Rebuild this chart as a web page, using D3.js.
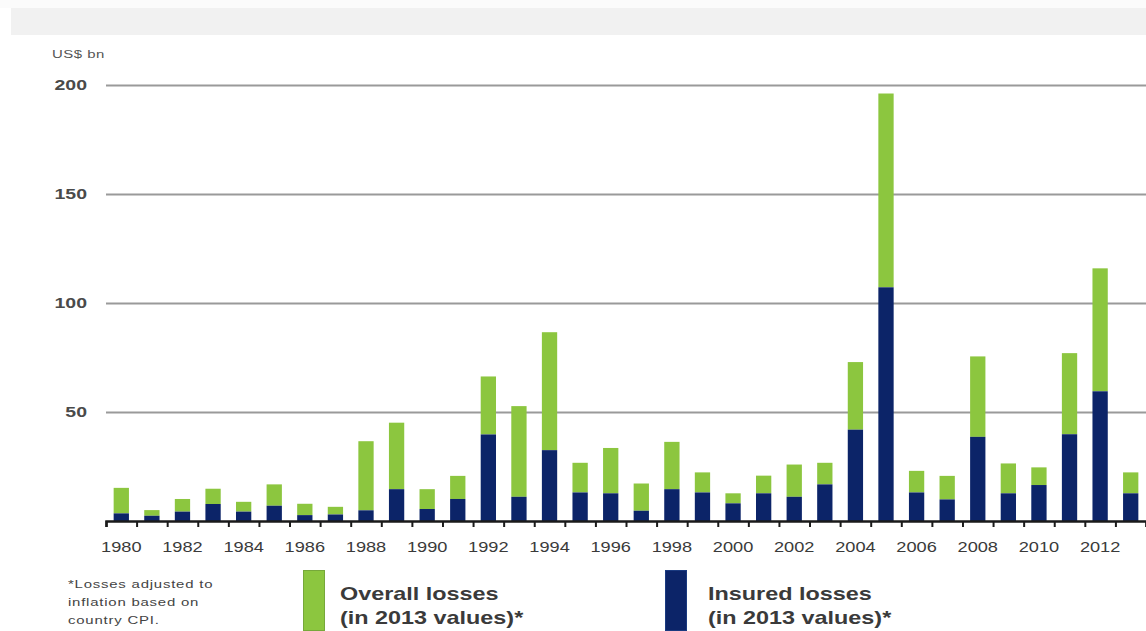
<!DOCTYPE html>
<html>
<head>
<meta charset="utf-8">
<script src="https://cdn.jsdelivr.net/npm/d3@7"></script>
<style>
  html, body { margin: 0; padding: 0; background: #ffffff; }
  svg { display: block; font-family: "Liberation Sans", Arial, sans-serif; }
</style>
</head>
<body>
<svg id="chart" width="1146" height="631"></svg>
<script>
// Natural catastrophe losses by year, US$ bn (2013 values)
const years = d3.range(1980, 2014);
const overallLosses = [
  15.2, 5.0, 10.1, 14.8, 8.8, 16.8, 7.9, 6.5, 36.6, 45.1,
  14.6, 20.7, 66.3, 52.7, 86.6, 26.7, 33.5, 17.2, 36.3, 22.3,
  12.7, 20.8, 25.9, 26.7, 72.9, 196.1, 23.0, 20.7, 75.5, 26.4,
  24.6, 77.0, 115.9, 22.3
];
const insuredLosses = [
  3.5, 2.4, 4.3, 7.8, 4.3, 7.0, 2.7, 3.0, 4.9, 14.6,
  5.5, 10.1, 39.7, 11.1, 32.5, 13.1, 12.7, 4.7, 14.6, 13.1,
  8.1, 12.7, 11.1, 16.8, 41.9, 107.2, 13.1, 9.9, 38.6, 12.7,
  16.5, 39.8, 59.5, 12.7
];
const yTicks = [50, 100, 150, 200];
const yearLabels = d3.range(1980, 2013, 2);
const unitLabel = "US$ bn";
const footnote = ["*Losses adjusted to", "inflation based on", "country CPI."];
const legendItems = [
  { lines: ["Overall losses", "(in 2013 values)*"], color: "#8cc63f", stroke: "#76a83a" },
  { lines: ["Insured losses", "(in 2013 values)*"], color: "#0c2468", stroke: "#1a3a80" }
];

const GREEN = "#8cc63f", NAVY = "#0c2468";
const SX = 1.3; // horizontal text stretch of the original artwork

const svg = d3.select("#chart");
const plotLeft = 106, plotRight = 1146, plotTop = 85, plotBottom = 521;

// header band
svg.append("rect").attr("x", 0).attr("y", 0).attr("width", 1146).attr("height", 8).attr("fill", "#fbfbfb");
svg.append("rect").attr("x", 11).attr("y", 8).attr("width", 1135).attr("height", 27).attr("fill", "#f1f1f1");

const x = d3.scaleBand().domain(years).range([plotLeft, plotRight]).paddingInner(0.5).paddingOuter(0.25);
const y = d3.scaleLinear().domain([0, 200]).range([plotBottom, plotTop]);

// horizontal gridlines + y labels
const yAxis = svg.append("g")
  .attr("transform", `translate(${plotLeft},0)`)
  .call(d3.axisLeft(y).tickValues(yTicks).tickSize(-(plotRight - plotLeft)).tickPadding(0));
yAxis.select(".domain").remove();
yAxis.selectAll(".tick line").attr("stroke", "#9a9a9a").attr("stroke-width", 2);
yAxis.selectAll(".tick text")
  .attr("x", -19 / SX)
  .attr("transform", `scale(${SX},1)`)
  .attr("fill", "#4a4a4a")
  .attr("font-size", 15)
  .attr("font-weight", "bold")
  .attr("font-family", "Liberation Sans, Arial, sans-serif");

// stacked bars
const bars = svg.append("g");
bars.selectAll("rect.overall").data(years).join("rect")
  .attr("class", "overall")
  .attr("x", d => x(d))
  .attr("width", x.bandwidth())
  .attr("y", (d, i) => y(overallLosses[i]))
  .attr("height", (d, i) => y(insuredLosses[i]) - y(overallLosses[i]))
  .attr("fill", GREEN);
bars.selectAll("rect.insured").data(years).join("rect")
  .attr("class", "insured")
  .attr("x", d => x(d))
  .attr("width", x.bandwidth())
  .attr("y", (d, i) => y(insuredLosses[i]))
  .attr("height", (d, i) => y(0) - y(insuredLosses[i]))
  .attr("fill", NAVY);

// baseline with boundary ticks between years
const xb = d3.scaleLinear().domain([0, years.length]).range([plotLeft, plotRight]);
const tickAxis = svg.append("g")
  .attr("transform", `translate(0,${plotBottom})`)
  .call(d3.axisBottom(xb).tickValues(d3.range(0, years.length + 1)).tickSize(6).tickFormat(""));
tickAxis.select(".domain").attr("stroke", "#1a1a1a").attr("stroke-width", 2.5);
tickAxis.selectAll(".tick line").attr("stroke", "#1a1a1a").attr("stroke-width", 2);

// year labels
const labelAxis = svg.append("g")
  .attr("transform", `translate(0,${plotBottom})`)
  .call(d3.axisBottom(x).tickValues(yearLabels).tickSize(0).tickPadding(21));
labelAxis.select(".domain").remove();
labelAxis.selectAll(".tick text")
  .attr("transform", `scale(${SX},1)`)
  .attr("fill", "#3a3a3a")
  .attr("font-size", 14)
  .attr("font-family", "Liberation Sans, Arial, sans-serif");

// unit label
svg.append("text")
  .attr("transform", `translate(52,58) scale(${SX},1)`)
  .attr("font-size", 11.5)
  .attr("letter-spacing", 0.4)
  .attr("fill", "#555")
  .text(unitLabel);

// footnote
const fn = svg.append("g");
footnote.forEach((line, i) => {
  fn.append("text")
    .attr("transform", `translate(68,${588 + i * 18}) scale(${SX},1)`)
    .attr("font-size", 11.5)
    .attr("letter-spacing", 0.6)
    .attr("fill", "#444")
    .text(line);
});

// legend
const legendX = [303, 665];
legendItems.forEach((item, i) => {
  const g = svg.append("g").attr("transform", `translate(${legendX[i]},570)`);
  g.append("rect").attr("x", 0.5).attr("y", 0.5).attr("width", 21).attr("height", 60)
    .attr("fill", item.color).attr("stroke", item.stroke).attr("stroke-width", 1);
  item.lines.forEach((line, j) => {
    g.append("text")
      .attr("transform", `translate(${i === 0 ? 37 : 43},${30 + j * 24}) scale(${SX},1)`)
      .attr("font-size", 18)
      .attr("font-weight", "bold")
      .attr("fill", "#3a3a3a")
      .text(line);
  });
});
</script>
</body>
</html>
